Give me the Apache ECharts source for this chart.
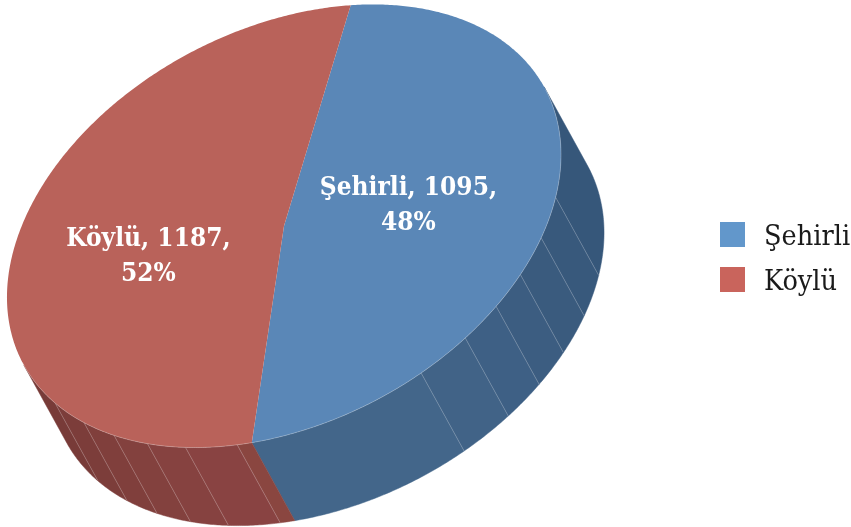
<!DOCTYPE html>
<html><head><meta charset="utf-8">
<style>html,body{margin:0;padding:0;background:#fff}#c{width:851px;height:527px}</style>
<script src="https://cdn.jsdelivr.net/npm/echarts@6/dist/echarts.min.js"></script>
</head><body><div id="c"></div>
<script>
const categories = ['Şehirli', 'Köylü'];
const values = [1095, 1187];
const topColors = ['#5a87b7', '#b9625a'];
const legendColors = ['#6297cb', '#c9645c'];
// wall seams, as ellipse-parameter degrees for each slice
const seams = [
  [-79.5, -68.3, -59.2, -50.6, -41, -30.5],
  [-118.9, -130, -138.7, -147, -155.4, -164.9]
];
// wall shade per facet, in drawing order from the shared front edge outward
const wallShades = [
  ['#43668a', '#416387', '#3e6085', '#3c5d81', '#3a5b7e', '#38597c', '#36577a'],
  ['#8a4640', '#894342', '#864240', '#83413e', '#803f3c', '#7c3d3a', '#783b38']
];
const total = values[0] + values[1];
const DEG = Math.PI / 180;
const geom = { cx: 284, cy: 226, a: 295, b: 197, rot: 27.5, dx: 43, dy: 78, start: 56.9 };
const visible = [1, -179];
const labelPos = [0.45, 0.49];
const labelSkew = [6.6, 7.6];
const labelDrop = [5.5, 1];

function pt(t, ox, oy) {
  const r = t * DEG, c = geom.rot * DEG;
  const u = geom.a * Math.cos(r), v = geom.b * Math.sin(r);
  return [geom.cx + u * Math.cos(c) - v * Math.sin(c) + (ox || 0),
          geom.cy - (u * Math.sin(c) + v * Math.cos(c)) + (oy || 0)];
}
function arc(t0, t1, ox, oy) {
  const n = Math.max(2, Math.ceil(Math.abs(t1 - t0) * 2));
  const out = [];
  for (let i = 0; i <= n; i++) out.push(pt(t0 + (t1 - t0) * i / n, ox, oy));
  return out;
}
function sliceRange(idx) {
  let acc = 0;
  for (let i = 0; i < idx; i++) acc += values[i];
  return [geom.start - acc / total * 360, geom.start - (acc + values[idx]) / total * 360];
}
function wallChildren(idx) {
  const r = sliceRange(idx);
  let from, to;
  if (idx === 0) { from = visible[0]; to = r[1]; } else { from = r[0]; to = visible[1]; }
  // seams listed from the front edge outward
  const edges = idx === 0 ? [r[1]].concat(seams[0], [from]) : [r[0]].concat(seams[1], [to]);
  const kids = [];
  for (let i = 0; i < edges.length - 1; i++) {
    const top = arc(edges[i], edges[i + 1]);
    const bot = arc(edges[i + 1], edges[i], geom.dx, geom.dy);
    kids.push({ type: 'polygon', shape: { points: top.concat(bot) },
      style: { fill: wallShades[idx][i], stroke: wallShades[idx][i], lineWidth: 0.5 }, z2: 1 });
  }
  seams[idx].forEach(function (t) {
    const p = pt(t), q = pt(t, geom.dx, geom.dy);
    kids.push({ type: 'line', shape: { x1: p[0], y1: p[1], x2: q[0], y2: q[1] },
      style: { stroke: 'rgba(255,255,255,0.28)', lineWidth: 0.8 }, z2: 2 });
  });
  return kids;
}
function renderWall(idx) {
  return { type: 'group', children: wallChildren(idx) };
}
function renderTop(idx, value) {
  const r = sliceRange(idx);
  const pts = [[geom.cx, geom.cy]].concat(arc(r[0], r[1]));
  const mid = (r[0] + r[1]) / 2 + labelSkew[idx];
  const rad = mid * DEG, c = geom.rot * DEG;
  const u = geom.a * labelPos[idx] * Math.cos(rad), v = geom.b * labelPos[idx] * Math.sin(rad);
  const lx = geom.cx + u * Math.cos(c) - v * Math.sin(c);
  const ly = geom.cy - (u * Math.sin(c) + v * Math.cos(c)) + labelDrop[idx];
  const pct = Math.round(value / total * 100);
  return { type: 'group', children: [
    { type: 'polygon', shape: { points: pts }, style: { fill: topColors[idx] }, z2: 10 },
    { type: 'polyline', shape: { points: arc(Math.min(r[0], 0), Math.max(r[1], -180)) },
      style: { fill: 'none', stroke: 'rgba(255,255,255,0.25)', lineWidth: 1 }, z2: 11 },
    { type: 'text', x: lx, y: ly, z2: 20,
      style: { text: categories[idx] + ', ' + value + ',\n' + pct + '%', align: 'center', verticalAlign: 'middle',
        fill: '#ffffff', font: 'bold 26px "DejaVu Serif Condensed"', lineHeight: 35 } }
  ] };
}
function seriesFor(idx) {
  return {
    type: 'custom', name: categories[idx], coordinateSystem: 'none',
    itemStyle: { color: legendColors[idx] },
    data: [[values[idx]]], silent: true, animation: false,
    renderItem: function (p, api) {
      return { type: 'group', children: [renderWall(idx), renderTop(idx, api.value(0))] };
    }
  };
}
const chart = echarts.init(document.getElementById('c'), null, { renderer: 'canvas' });
chart.setOption({
  backgroundColor: '#ffffff',
  animation: false,
  legend: {
    orient: 'vertical', left: 720, top: 222, padding: 0, itemWidth: 25, itemHeight: 25, itemGap: 15,
    icon: 'rect', selectedMode: false, data: categories,
    formatter: function (n) { return '{t|' + n + '}'; },
    textStyle: { rich: { t: { fontFamily: 'DejaVu Serif Condensed', fontSize: 28.5, color: '#1a1a1a', padding: [6, 0, 0, 14] } } }
  },
  series: [seriesFor(0), seriesFor(1)]
});
</script></body></html>
